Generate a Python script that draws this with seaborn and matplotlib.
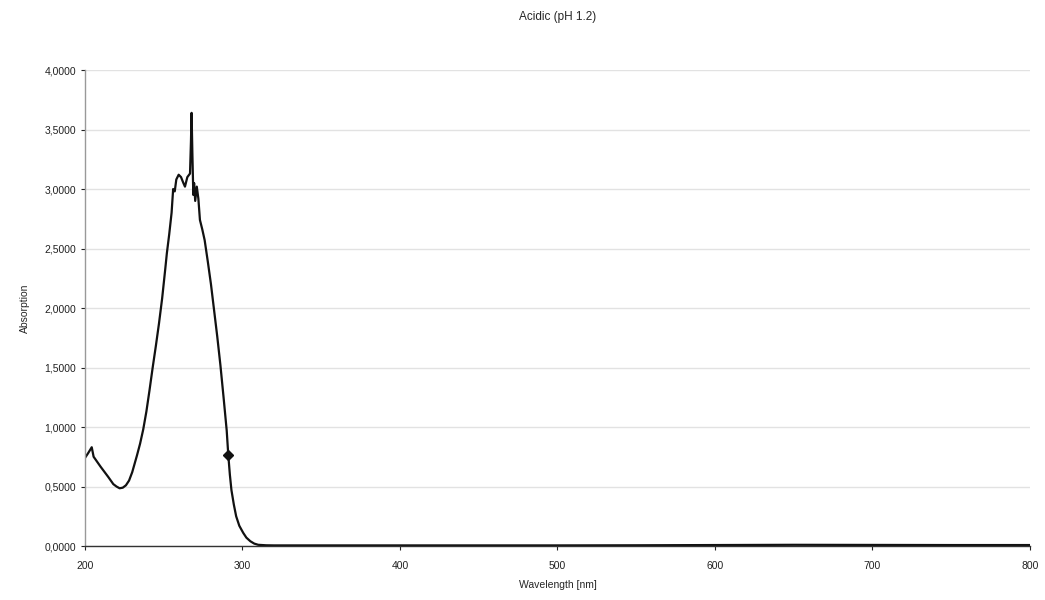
"""
Acidic (pH 1.2) absorption spectrum
"""

import pandas as pd
import matplotlib
matplotlib.use('Agg')
import matplotlib.pyplot as plt
import matplotlib.ticker as mticker
import seaborn as sns


# =============================================================================
# DATA
# =============================================================================

WAVELENGTH = [200, 202, 204.3, 205.5, 210, 214.8, 218, 220, 222, 224, 226,
              228, 230, 233, 235, 237, 239, 241, 243, 245, 247, 249, 251,
              252, 253.5, 255, 256, 257, 258, 259.5, 261, 262.5, 263.5,
              265, 266.7, 267.3, 267.7, 268.2, 268.8, 269.3, 270, 271, 272,
              273, 274.5, 276, 278, 280, 282, 284, 286, 288, 290, 291, 292,
              293, 294.5, 296, 298, 300.5, 302.5, 305, 307.5, 310, 315,
              320, 350, 400, 450, 500, 550, 600, 650, 700, 750, 800]

ABSORPTION = [0.74, 0.78, 0.83, 0.75, 0.665, 0.58, 0.52, 0.50, 0.485, 0.49,
              0.51, 0.55, 0.62, 0.76, 0.86, 0.98, 1.13, 1.31, 1.50, 1.68,
              1.87, 2.08, 2.33, 2.46, 2.62, 2.80, 3.00, 2.98, 3.08, 3.12,
              3.10, 3.05, 3.02, 3.10, 3.13, 3.40, 3.64, 3.30, 2.95, 3.05,
              2.90, 3.02, 2.92, 2.74, 2.66, 2.57, 2.39, 2.20, 1.98, 1.76,
              1.52, 1.25, 0.97, 0.765, 0.60, 0.47, 0.35, 0.25, 0.17, 0.11,
              0.07, 0.04, 0.02, 0.01, 0.006, 0.005, 0.005, 0.005, 0.005,
              0.005, 0.006, 0.008, 0.010, 0.009, 0.008, 0.008]

MARKER_WL = [291]
MARKER_ABS = [0.765]

Y_TICKS = [0.0, 0.5, 1.0, 1.5, 2.0, 2.5, 3.0, 3.5, 4.0]
X_TICKS = [200, 300, 400, 500, 600, 700, 800]


# =============================================================================
# PLOT
# =============================================================================

sns.set_style('white')
plt.rcParams['font.family'] = ['Liberation Sans', 'DejaVu Sans']

df = pd.DataFrame({'Wavelength': WAVELENGTH, 'Absorption': ABSORPTION})

fig = plt.figure(figsize=(10.45, 6.0), dpi=100)
ax = fig.add_axes([0.0813, 0.09, 0.9043, 0.7933])

ax.set_xlim(200, 800)
ax.set_ylim(0, 4.0)
ax.set_yticks(Y_TICKS)
ax.set_xticks(X_TICKS)
ax.yaxis.grid(True, color='#e2e2e2', linewidth=1.0)
ax.set_axisbelow(True)

sns.lineplot(data=df, x='Wavelength', y='Absorption', sort=False,
             estimator=None, color='#111111', linewidth=1.6, ax=ax)
ax.plot(MARKER_WL, MARKER_ABS, marker='D', markersize=5, color='#111111',
        linestyle='none')

# comma decimal separator
ax.yaxis.set_major_formatter(
    mticker.FuncFormatter(lambda v, p: f'{v:.4f}'.replace('.', ',')))

for side in ['top', 'right']:
    ax.spines[side].set_visible(False)
ax.spines['left'].set_color('#999999')
ax.spines['left'].set_linewidth(1.0)
ax.spines['bottom'].set_color('#333333')
ax.spines['bottom'].set_linewidth(1.0)

ax.tick_params(axis='both', direction='out', length=3, width=0.8,
               labelsize=7.5, colors='#222222', left=True, bottom=True)
ax.tick_params(axis='x', pad=8)

ax.set_xlabel('Wavelength [nm]', fontsize=7.5, labelpad=6)
ax.set_ylabel('Absorption', fontsize=7.5, labelpad=10)
ax.set_title('Acidic (pH 1.2)', fontsize=8.5, pad=36)

plt.savefig('out.png', dpi=100, facecolor='white')
plt.close()
